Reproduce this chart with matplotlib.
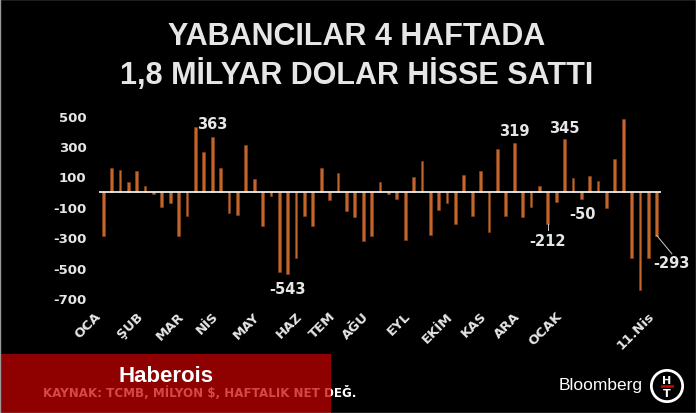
import matplotlib
matplotlib.use("Agg")
import matplotlib.pyplot as plt
from matplotlib.patches import Rectangle, Circle
import numpy as np

# weekly net flows, million $
weekly_flow = [-295, 157, 144, 61, 133, 37, -13, -98, -74, -290, -157, 425, 264,
               363, 157, -142, -153, 305, 81, -229, -26, -527, -543, -440, -157, -229,
               153, -54, 120, -126, -168, -322, -294, 65, -17, -48, -320, 98, 203,
               -288, -120, -74, -213, 109, -163, 137, -268, 279, -157, 319, -166, -98, 39,
               -212, -65, 345, 87, -50, 105, 72, -105, 214, 477, -440, -647, -440, -293]

month_labels = ["OCA", "ŞUB", "MAR", "NİS", "MAY", "HAZ", "TEM", "AĞU",
                "EYL", "EKİM", "KAS", "ARA", "OCAK", "11.Nis"]
month_weeks = [0, 5, 10, 14, 19, 24, 28, 32, 37, 42, 46, 50, 55, 66]

y_ticks = [500, 300, 100, -100, -300, -500, -700]

# labelled bars: week index, text, label x, label y
labelled = [(13, "363", 13, 446), (22, "-543", 22, -635), (49, "319", 49, 402),
            (55, "345", 55, 420), (53, "-212", 53, -322), (57, "-50", 57.1, -141),
            (66, "-293", 67.75, -468)]

bar_clr = "#c4652c"
txt_clr = "#e6e6e6"
font = "DejaVu Sans"

fig = plt.figure(figsize=(6.96, 4.14), dpi=100, facecolor="black")
ax = fig.add_axes([0.1422, 0.2778, 0.8075, 0.4403], facecolor="black")

x = np.arange(len(weekly_flow))
ax.bar(x, weekly_flow, width=0.33, color=bar_clr, edgecolor="#8a4418", linewidth=0.4, zorder=2)
ax.axhline(0, color="white", lw=1.2, zorder=3)

ax.set_xlim(-0.5, len(weekly_flow) - 0.5)
ax.set_ylim(-700, 500)
for s in ax.spines.values():
    s.set_visible(False)

ax.set_yticks(y_ticks)
ax.set_yticklabels([str(v) for v in y_ticks], color=txt_clr, fontsize=9.5,
                   fontweight="bold", family=font)
ax.set_xticks(month_weeks)
ax.set_xticklabels(month_labels, rotation=45, ha="right", color=txt_clr,
                   fontsize=9.5, fontweight="bold", family=font)
ax.tick_params(axis="both", length=0)
ax.tick_params(axis="y", pad=9)
ax.tick_params(axis="x", pad=8)

for idx, txt, lx, ly in labelled:
    ax.text(lx, ly, txt, ha="center", va="center", color=txt_clr, fontsize=10.5,
            fontweight="bold", family=font, zorder=4)

# leader lines
ax.plot([53, 53], [-212, -250], color="#cccccc", lw=0.7)
ax.plot([66, 67.8], [-289, -409], color="#cccccc", lw=0.7, clip_on=False)

# title
fig.text(0.512, 1 - 37 / 414, "YABANCILAR 4 HAFTADA", ha="center", va="center",
         color=txt_clr, fontsize=22, fontweight="bold", family="Liberation Sans")
fig.text(0.512, 1 - 75 / 414, "1,8 MİLYAR DOLAR HİSSE SATTI", ha="center", va="center",
         color=txt_clr, fontsize=22, fontweight="bold", family="Liberation Sans")

# footer
fig.text(43 / 696, 1 - 393 / 414, "KAYNAK: TCMB, MİLYON $, HAFTALIK NET DEĞ.",
         ha="left", va="center", color="white", fontsize=8.6, fontweight="bold",
         family=font, zorder=1)
fig.patches.append(Rectangle((0, 0), 331 / 696, 59 / 414, transform=fig.transFigure,
                             facecolor="#c70000", alpha=0.72, edgecolor="none", zorder=2))
fig.text(166 / 696, 1 - 377 / 414, "Haberois", ha="center", va="center",
         color="white", fontsize=16, fontweight="bold", family="Liberation Sans", zorder=3)

fig.text(601 / 696, 1 - 386 / 414, "Bloomberg", ha="center", va="center",
         color="white", fontsize=12.5, family="Liberation Sans")
logo = fig.add_axes([650 / 696, 1 - 404 / 414, 34 / 696, 34 / 414], facecolor="none")
logo.set_xlim(-1, 1)
logo.set_ylim(-1, 1)
logo.set_aspect("equal")
logo.axis("off")
logo.add_patch(Circle((0, 0), 0.92, facecolor="black", edgecolor="white", lw=2))
logo.text(0, 0.35, "H", ha="center", va="center", color="white", fontsize=8, fontweight="bold")
logo.text(0, -0.4, "T", ha="center", va="center", color="white", fontsize=8, fontweight="bold")
logo.plot([-0.3, 0.3], [0, 0], color="#d00000", lw=2)

fig.patches.append(Rectangle((0, 0), 1, 1, transform=fig.transFigure,
                             facecolor="none", edgecolor="#999999", lw=1, zorder=5))

fig.savefig("out.png", dpi=100, facecolor="black")
